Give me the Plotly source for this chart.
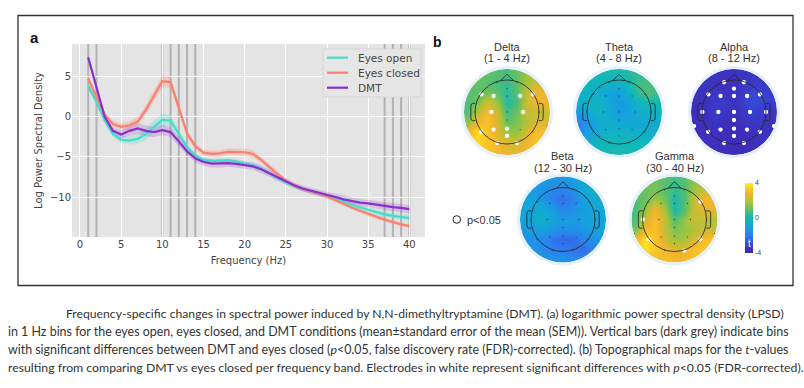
import math
import plotly.graph_objects as go

W, H = 804, 388

# ---------- panel a data ----------
freq = list(range(1, 41))
eyes_open = [3.8, 1.8, -0.5, -2.2, -2.9, -3.0, -2.8, -2.2, -1.3, -0.45, -0.55, -2.1, -3.8, -4.9, -5.4, -5.55, -5.5, -5.45, -5.6, -5.85,
             -6.1, -6.5, -7.1, -7.7, -8.2, -8.65, -9.0, -9.3, -9.6, -9.85, -10.2, -10.6, -10.95, -11.3, -11.6, -11.9, -12.15, -12.35, -12.5, -12.6]
eyes_closed = [4.7, 2.4, 0.2, -0.95, -1.3, -1.1, -0.65, 0.8, 2.6, 4.35, 4.25, 1.0, -2.1, -3.7, -4.5, -4.65, -4.6, -4.4, -4.4, -4.45,
               -4.65, -5.4, -6.3, -7.2, -8.0, -8.6, -9.0, -9.3, -9.6, -9.9, -10.4, -10.9, -11.3, -11.7, -12.1, -12.5, -12.8, -13.1, -13.4, -13.6]
dmt = [7.3, 3.5, -0.05, -1.8, -2.25, -1.8, -1.5, -1.8, -1.95, -1.7, -1.95, -3.1, -4.35, -5.2, -5.65, -5.85, -5.85, -5.8, -5.9, -6.05,
       -6.2, -6.55, -7.05, -7.6, -8.1, -8.55, -8.95, -9.2, -9.5, -9.75, -10.0, -10.3, -10.5, -10.7, -10.8, -10.95, -11.15, -11.25, -11.35, -11.5]
sem_open = [0.4, 0.4, 0.4, 0.4, 0.45, 0.5, 0.6, 0.7, 0.8, 0.8, 0.7, 0.5, 0.4, 0.35, 0.3, 0.3, 0.3, 0.3, 0.3, 0.3,
            0.3, 0.3, 0.3, 0.3, 0.3, 0.3, 0.3, 0.3, 0.3, 0.3, 0.3, 0.3, 0.3, 0.3, 0.3, 0.35, 0.35, 0.35, 0.35, 0.35]
sem_closed = [0.4, 0.4, 0.4, 0.4, 0.45, 0.5, 0.55, 0.6, 0.7, 0.75, 0.7, 0.55, 0.45, 0.4, 0.4, 0.4, 0.4, 0.4, 0.4, 0.45,
              0.45, 0.4, 0.4, 0.35, 0.3, 0.3, 0.3, 0.25, 0.25, 0.25, 0.25, 0.25, 0.25, 0.25, 0.25, 0.25, 0.25, 0.25, 0.25, 0.25]
sem_dmt = [0.4, 0.4, 0.4, 0.4, 0.5, 0.6, 0.65, 0.65, 0.65, 0.65, 0.6, 0.55, 0.5, 0.5, 0.5, 0.5, 0.5, 0.45, 0.45, 0.45,
           0.45, 0.45, 0.4, 0.4, 0.35, 0.35, 0.35, 0.35, 0.4, 0.4, 0.45, 0.45, 0.45, 0.45, 0.45, 0.5, 0.5, 0.5, 0.5, 0.5]
significant_bins = [1, 2, 10, 11, 12, 13, 14, 37, 38, 39, 40]
series_names = ["Eyes open", "Eyes closed", "DMT"]
series_colors = ["#45DDC8", "#FB8070", "#8B2FCB"]
band_colors = ["rgba(69,221,200,0.26)", "rgba(251,128,112,0.28)", "rgba(139,47,203,0.2)"]

# ---------- panel b data ----------
electrodes = {
    "Fp1": (-.31, .93), "Fp2": (.31, .93), "AFz": (0, .73), "F7": (-.8, .55), "F3": (-.42, .5), "Fz": (0, .5),
    "F4": (.41, .5), "F8": (.81, .55), "T7": (-.99, 0), "C3": (-.49, 0), "Cz": (0, 0), "C4": (.5, 0), "T8": (1, 0),
    "CPz": (0, -.25), "TP9": (-1.25, -.44), "TP10": (1.25, -.44), "P7": (-.81, -.62), "P3": (-.42, -.55),
    "Pz": (0, -.52), "P4": (.41, -.55), "P8": (.81, -.62), "POz": (0, -.75), "O1": (-.31, -.97), "O2": (.31, -.97),
}
bands = ["Delta", "Theta", "Alpha", "Beta", "Gamma"]
band_ranges = ["(1 - 4 Hz)", "(4 - 8 Hz)", "(8 - 12 Hz)", "(12 - 30 Hz)", "(30 - 40 Hz)"]
sig_delta = ["F7", "F3", "F4", "F8", "C3", "C4", "P7", "P3", "Pz", "POz", "O1", "O2"]
sig_theta = []
sig_alpha = list(electrodes)
sig_beta = []
sig_gamma = ["F8", "T7", "P7", "P8", "O2"]

t_delta = [[1.2, 1.2, 1.0, 0.9, 0.7, 1.1, 1.6, 1.8, 1.8],
           [1.2, 1.0, 0.9, 0.7, 0.5, 1.0, 1.8, 2.2, 2.2],
           [0.9, 1.0, 1.2, 0.9, 0.3, 0.9, 2.1, 2.7, 2.7],
           [0.8, 1.3, 2.3, 1.6, 0.2, 0.8, 2.2, 2.7, 2.7],
           [0.8, 2.0, 3.0, 2.2, 0.6, 1.2, 2.1, 2.2, 2.2],
           [1.5, 2.8, 3.2, 2.4, 1.0, 1.3, 1.9, 2.4, 2.5],
           [2.8, 3.7, 3.2, 2.4, 1.6, 1.5, 2.3, 3.0, 3.1],
           [3.5, 3.6, 3.3, 2.8, 2.3, 2.2, 2.7, 3.2, 3.2],
           [3.3, 3.3, 3.1, 2.9, 2.6, 2.6, 2.9, 3.1, 3.1]]
t_theta = [[0, 0, .1, .1, .1, .3, .4, .4, .4],
           [-.1, -.2, -.2, -.3, -.3, .1, .6, .7, .6],
           [-.3, -.4, -.6, -.9, -1, -.3, .5, .8, .5],
           [-.5, -.2, -.3, -.9, -1.3, -.8, -.2, .1, .1],
           [-1.3, -.6, -.2, -.7, -1.2, -.9, -.6, -.4, -.3],
           [-1.8, -1.2, -.7, -.6, -.8, -.8, -.8, -.7, -.6],
           [-1.6, -1.1, -.6, -.3, -.3, -.4, -.5, -.5, -.5],
           [-.8, -.5, -.2, 0, 0, 0, -.1, -.2, -.2],
           [-.2, -.1, 0, .1, .1, .1, .1, 0, -.1]]
t_alpha = [[-3.3, -3.4, -3.5, -3.6, -3.6, -3.5, -3.4, -3.4, -3.4],
           [-3.4, -3.5, -3.6, -3.7, -3.6, -3.4, -3.3, -3.3, -3.3],
           [-3.5, -3.6, -3.4, -3.5, -3.6, -3.2, -3.0, -3.1, -3.2],
           [-3.6, -3.6, -3.2, -3.3, -3.6, -3.1, -2.9, -3.0, -3.2],
           [-3.7, -3.6, -3.3, -3.4, -3.7, -3.3, -3.1, -3.3, -3.5],
           [-3.7, -3.7, -3.5, -3.6, -3.8, -3.5, -3.4, -3.5, -3.6],
           [-3.7, -3.7, -3.6, -3.7, -3.8, -3.7, -3.6, -3.6, -3.6],
           [-3.6, -3.6, -3.6, -3.7, -3.8, -3.8, -3.7, -3.6, -3.6],
           [-3.5, -3.6, -3.6, -3.7, -3.7, -3.7, -3.7, -3.6, -3.5]]
t_beta = [[-1.2, -1.2, -1.2, -1.3, -1.3, -1, -.7, -.4, -.4],
          [-1.2, -1.2, -1.5, -1.8, -1.9, -1.5, -.9, -.4, -.3],
          [-1, -1, -1.3, -2, -2.3, -1.9, -1.1, -.7, -.6],
          [-.9, -.8, -.7, -1.2, -1.7, -1.5, -1.1, -.9, -.8],
          [-1, -.7, -.4, -.9, -1.2, -1.2, -1, -.9, -.9],
          [-1.3, -1.1, -1, -1.4, -1.6, -1.5, -1.3, -1.1, -1],
          [-1.4, -1.4, -1.7, -2.2, -2.4, -2.3, -1.9, -1.5, -1.3],
          [-1.4, -1.4, -1.7, -2, -2, -2.2, -2.3, -2, -1.7],
          [-1.4, -1.3, -1.3, -1.4, -1.4, -1.6, -1.9, -2, -1.9]]
t_gamma = [[1.2, 1.4, 1.2, 0.9, 0.6, 0.9, 1.5, 1.9, 2.0],
           [1.1, 1.1, 1.3, 0.9, 0.4, 0.9, 1.6, 2.2, 2.3],
           [0.8, 1.1, 1.7, 1.2, 0.1, 0.8, 2.2, 2.8, 2.8],
           [0.7, 1.6, 2.9, 1.8, 0.1, 0.9, 2.2, 2.6, 2.5],
           [0.8, 2.3, 3.1, 2.1, 0.8, 1.6, 2.2, 2.0, 1.9],
           [1.2, 2.9, 3.2, 2.1, 1.3, 1.6, 1.8, 2.2, 2.2],
           [2.8, 3.8, 3.2, 2.3, 1.6, 1.7, 2.3, 3.0, 3.1],
           [3.5, 3.7, 3.3, 2.8, 2.4, 2.5, 3.0, 3.3, 3.3],
           [3.3, 3.3, 3.1, 3.0, 2.9, 2.9, 3.1, 3.2, 3.2]]

caption_lines = [
    "Frequency-specific changes in spectral power induced by N,N-dimethyltryptamine (DMT). (a) logarithmic power spectral density (LPSD)",
    "in 1 Hz bins for the eyes open, eyes closed, and DMT conditions (mean±standard error of the mean (SEM)). Vertical bars (dark grey) indicate bins",
    "with significant differences between DMT and eyes closed (<i>p</i>&lt;0.05, false discovery rate (FDR)-corrected). (b) Topographical maps for the <i>t</i>-values",
    "resulting from comparing DMT vs eyes closed per frequency band. Electrodes in white represent significant differences with <i>p</i>&lt;0.05 (FDR-corrected).",
]

# ---------- layout helpers ----------
def fx(p):
    return p / W

def fy(p):
    return 1 - p / H

fig = go.Figure()
shapes = []
annotations = []
CAPTION_FONT = "Lato, sans-serif"
SANS = "Liberation Sans, Arial, sans-serif"
DEJAVU = "DejaVu Sans, sans-serif"

# panel a background (below the grid)
shapes.append(dict(type="rect", xref="paper", yref="paper", x0=fx(72), x1=fx(425), y0=fy(237), y1=fy(44),
                   fillcolor="#E4E4E4", line=dict(width=0), layer="below"))

# ---------- panel a ----------
for i, (vals, sem) in enumerate(zip([eyes_open, eyes_closed, dmt], [sem_open, sem_closed, sem_dmt])):
    upper = [v + s for v, s in zip(vals, sem)]
    lower = [v - s for v, s in zip(vals, sem)]
    fig.add_trace(go.Scatter(x=freq + freq[::-1], y=upper + lower[::-1], fill="toself", fillcolor=band_colors[i],
                             line=dict(width=0), mode="lines", showlegend=False, hoverinfo="skip"))
for i, vals in enumerate([eyes_open, eyes_closed, dmt]):
    fig.add_trace(go.Scatter(x=freq, y=vals, mode="lines", name=series_names[i], showlegend=False,
                             line=dict(color=series_colors[i], width=2.2)))
for b in significant_bins:
    shapes.append(dict(type="line", xref="x", yref="paper", x0=b, x1=b, y0=fy(237), y1=fy(44),
                       line=dict(color="rgba(90,90,90,0.36)", width=2), layer="between"))

# legend box, keys and labels
shapes.append(dict(type="rect", xref="paper", yref="paper", x0=fx(323), x1=fx(421), y0=fy(97), y1=fy(49),
                   fillcolor="#E6E6E6", line=dict(color="#D6D6D6", width=1), layer="above"))
for name, color, ypx in zip(series_names, series_colors, [57.7, 72.7, 87.7]):
    shapes.append(dict(type="line", xref="paper", yref="paper", x0=fx(327), x1=fx(348), y0=fy(ypx), y1=fy(ypx),
                       line=dict(color=color, width=2.2), layer="above"))
    annotations.append(dict(xref="paper", yref="paper", x=fx(356), y=fy(ypx), xanchor="left", yanchor="middle",
                            text=name, showarrow=False, font=dict(family=DEJAVU, size=10.5, color="#444")))

layout = dict(
    width=W, height=H, margin=dict(l=0, r=0, t=0, b=0), paper_bgcolor="white", plot_bgcolor="rgba(0,0,0,0)", showlegend=False,
    xaxis=dict(domain=[fx(72), fx(425)], range=[-0.97, 41.9], tickvals=[0, 5, 10, 15, 20, 25, 30, 35, 40],
               gridcolor="white", gridwidth=1, zeroline=False, ticks="", showline=False,
               tickfont=dict(family=DEJAVU, size=10, color="#444"),
               title=dict(text="Frequency (Hz)", font=dict(family=DEJAVU, size=10, color="#444"), standoff=7),
               anchor="y", automargin=False),
    yaxis=dict(domain=[fy(237), fy(44)], range=[-14.96, 8.97], tickvals=[-10, -5, 0, 5],
               gridcolor="white", gridwidth=1, zeroline=False, ticks="", showline=False,
               tickfont=dict(family=DEJAVU, size=10, color="#444"),
               title=dict(text="Log Power Spectral Density", font=dict(family=DEJAVU, size=10, color="#444"), standoff=5),
               anchor="x", automargin=False),
    coloraxis=dict(cmin=-4, cmax=4,
                   colorscale=[[0, "#3F27B0"], [0.1, "#3A3CCB"], [0.25, "#2E7EF0"], [0.38, "#14A4DC"], [0.5, "#10B8B8"],
                               [0.62, "#5DC06A"], [0.72, "#A8C43A"], [0.84, "#F0B52E"], [0.92, "#FBC826"], [1, "#FCF51C"]],
                   colorbar=dict(thickness=8, thicknessmode="pixels", len=70, lenmode="pixels",
                                 x=fx(745), xanchor="left", y=fy(218), yanchor="middle", xpad=0, ypad=0,
                                 outlinewidth=0, tickvals=[-4, 0, 4], ticktext=["-4", "0", "4"], ticks="",
                                 tickfont=dict(family=SANS, size=7, color="#444"))),
)

# ---------- panel b ----------
DISC_PX, HEAD_PX, BOX_PX = 43.0, 32.0, 47.0
centers = [(507, 112), (619, 112), (734, 112), (563, 219.5), (674.5, 219.5)]
title_offsets = [(-65, -54), (-65, -54), (-65, -54), (-63.5, -52), (-63.5, -52)]
fields = [t_delta, t_theta, t_alpha, t_beta, t_gamma]
sigs = [sig_delta, sig_theta, sig_alpha, sig_beta, sig_gamma]
disc = DISC_PX / HEAD_PX
box = BOX_PX / HEAD_PX
grid = [disc * 1.02 * (-8 / 9 + k * 2 / 9) for k in range(9)]


def ring(r, n=96):
    return [(r * math.cos(2 * math.pi * k / n), r * math.sin(2 * math.pi * k / n)) for k in range(n)]


for m, (band, rng, (cx, cy), field, sig, offs) in enumerate(zip(bands, band_ranges, centers, fields, sigs, title_offsets)):
    n = m + 2
    xa, ya = f"x{n}", f"y{n}"
    layout[f"xaxis{n}"] = dict(domain=[fx(cx - BOX_PX), fx(cx + BOX_PX)], range=[-box, box], visible=False, anchor=ya)
    layout[f"yaxis{n}"] = dict(domain=[fy(cy + BOX_PX), fy(cy - BOX_PX)], range=[-box, box], visible=False, anchor=xa)
    fig.add_trace(go.Heatmap(x=grid, y=grid[::-1], z=field, coloraxis="coloraxis", zsmooth="best",
                             xaxis=xa, yaxis=ya, hoverinfo="skip"))
    ex = [p[0] for p in electrodes.values()]
    ey = [p[1] for p in electrodes.values()]
    fig.add_trace(go.Scatter(x=ex, y=ey, mode="markers", marker=dict(size=1.3, color="rgba(40,40,40,0.75)"), xaxis=xa, yaxis=ya,
                             showlegend=False, hoverinfo="skip"))
    if sig:
        fig.add_trace(go.Scatter(x=[electrodes[s][0] for s in sig], y=[electrodes[s][1] for s in sig], mode="markers",
                                 marker=dict(size=4.3, color="white"), xaxis=xa, yaxis=ya, showlegend=False, hoverinfo="skip"))
    # round mask around the square field
    outer = f"M {-box} {-box} L {-box} {box} L {box} {box} L {box} {-box} Z "
    inner = "M " + " L ".join(f"{a:.4f} {b:.4f}" for a, b in ring(disc)) + " Z"
    shapes.append(dict(type="path", xref=xa, yref=ya, path=outer + inner, fillcolor="white", line=dict(width=0), layer="above"))
    halo = disc + 1.5 / HEAD_PX
    shapes.append(dict(type="circle", xref=xa, yref=ya, x0=-halo, x1=halo, y0=-halo, y1=halo,
                       line=dict(color="#E6F1FB", width=3), layer="above"))
    # head outline
    head = dict(color="#262626", width=0.85)
    shapes.append(dict(type="circle", xref=xa, yref=ya, x0=-1, x1=1, y0=-1, y1=1, line=head, layer="above"))
    shapes.append(dict(type="path", xref=xa, yref=ya, path="M -0.2 0.98 L 0 1.18 L 0.2 0.98", line=head, layer="above"))
    for s in (-1, 1):
        ear = (f"M {s*0.99} 0.27 L {s*1.08} 0.27 Q {s*1.13} 0.27 {s*1.13} 0.17 L {s*1.13} -0.17 "
               f"Q {s*1.13} -0.27 {s*1.08} -0.27 L {s*0.99} -0.27")
        shapes.append(dict(type="path", xref=xa, yref=ya, path=ear, line=head, layer="above"))
    for txt, off in zip((band, rng), offs):
        annotations.append(dict(xref="paper", yref="paper", x=fx(cx), y=fy(cy + off), xanchor="center", yanchor="middle",
                                text=txt, showarrow=False, font=dict(family=SANS, size=11, color="#333")))

# ---------- labels ----------
annotations += [
    dict(xref="paper", yref="paper", x=fx(34), y=fy(38), xanchor="center", yanchor="middle", text="<b>a</b>", showarrow=False,
         font=dict(family=SANS, size=15, color="#111")),
    dict(xref="paper", yref="paper", x=fx(437), y=fy(42), xanchor="center", yanchor="middle", text="<b>b</b>", showarrow=False,
         font=dict(family=SANS, size=14, color="#111")),
    dict(xref="paper", yref="paper", x=fx(465), y=fy(219.5), xanchor="left", yanchor="middle", text="p&lt;0.05", showarrow=False,
         font=dict(family=SANS, size=11, color="#333")),
    dict(xref="paper", yref="paper", x=fx(749), y=fy(243), xanchor="center", yanchor="middle", text="t", showarrow=False,
         font=dict(family=SANS, size=10, color="white")),
]
shapes.append(dict(type="circle", xref="paper", yref="paper", x0=fx(453), x1=fx(460.6), y0=fy(223.3), y1=fy(215.7),
                   line=dict(color="#222", width=1), layer="above"))
shapes.append(dict(type="rect", xref="paper", yref="paper", x0=fx(18), x1=fx(793), y0=fy(285.5), y1=fy(15.5),
                   line=dict(color="#333", width=1.3), layer="below"))
for line, x0, y0, size in zip(caption_lines, [64, 6, 6, 6], [313.5, 331.5, 349.5, 367.5], [12.2, 12.45, 12.4, 12.27]):
    annotations.append(dict(xref="paper", yref="paper", x=fx(x0), y=fy(y0), xanchor="left", yanchor="middle", text=line,
                            showarrow=False, font=dict(family=CAPTION_FONT, size=size, color="#333")))

layout["shapes"] = shapes
layout["annotations"] = annotations
fig.update_layout(**layout)
fig.write_html("out.html", config={"displayModeBar": False},
               post_script="document.body.style.margin='0';document.body.style.overflow='hidden';")
